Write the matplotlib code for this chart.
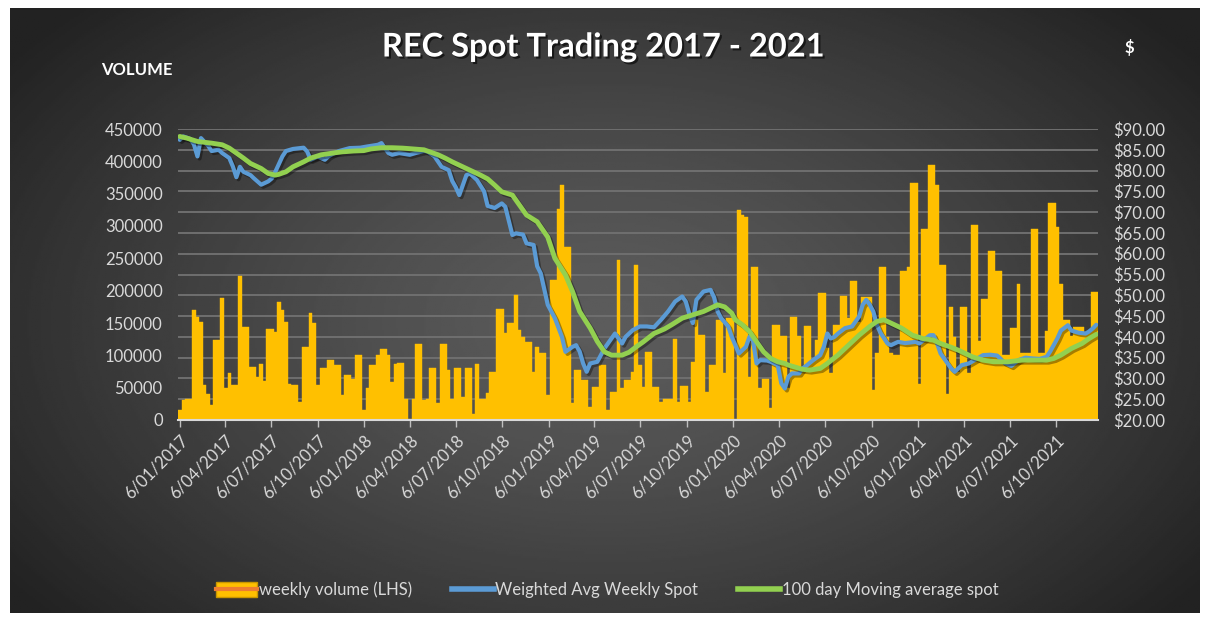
import numpy as np
import matplotlib
matplotlib.use("Agg")
import matplotlib.pyplot as plt
from datetime import datetime, timedelta
from matplotlib.patches import Patch
from matplotlib.lines import Line2D
import matplotlib.patheffects as pe

# ---------------- data ----------------
start_date = datetime(2017, 1, 6)   # first weekly observation (Friday)

weekly_volume = [
    15000, 31000, 33000, 33000, 170000, 160000, 152000, 54000, 40000, 23000,
    124000, 124000, 188000, 49000, 72000, 54000, 54000, 223000, 144000, 144000,
    82000, 82000, 67000, 86000, 60000, 140000, 140000, 136000, 183000, 170000,
    152000, 55000, 54000, 54000, 28000, 113000, 113000, 166000, 150000, 54000,
    80000, 80000, 93000, 93000, 85000, 85000, 39000, 70000, 70000, 64000,
    100000, 100000, 15000, 49000, 85000, 85000, 100000, 110000, 110000, 100000,
    59000, 86000, 88000, 88000, 33000, 2000, 33000, 117000, 117000, 31000,
    33000, 81000, 81000, 26000, 117000, 117000, 77000, 33000, 80000, 80000,
    36000, 80000, 80000, 10000, 86000, 33000, 33000, 41000, 74000, 74000,
    172000, 172000, 134000, 150000, 150000, 193000, 139000, 129000, 121000, 121000,
    75000, 113000, 104000, 104000, 39000, 216000, 216000, 327000, 363000, 268000,
    268000, 26000, 77000, 77000, 62000, 62000, 20000, 51000, 51000, 85000,
    85000, 15000, 44000, 44000, 247000, 49000, 62000, 62000, 75000, 240000,
    85000, 51000, 105000, 105000, 51000, 51000, 28000, 33000, 33000, 33000,
    125000, 28000, 52000, 52000, 28000, 90000, 155000, 132000, 132000, 44000,
    85000, 85000, 155000, 155000, 72000, 157000, 157000, 1000, 324000, 317000,
    314000, 67000, 237000, 237000, 49000, 64000, 64000, 18000, 147000, 147000,
    130000, 130000, 49000, 160000, 160000, 130000, 74000, 145000, 145000, 95000,
    124000, 197000, 197000, 111000, 72000, 147000, 147000, 192000, 192000, 157000,
    215000, 215000, 152000, 190000, 190000, 190000, 46000, 103000, 237000, 237000,
    129000, 103000, 100000, 100000, 231000, 231000, 237000, 366000, 366000, 55000,
    295000, 295000, 394000, 394000, 363000, 240000, 240000, 40000, 175000, 129000,
    75000, 175000, 175000, 72000, 302000, 302000, 122000, 187000, 187000, 262000,
    262000, 231000, 231000, 100000, 100000, 143000, 143000, 210000, 103000, 103000,
    103000, 296000, 296000, 103000, 103000, 138000, 336000, 336000, 299000, 210000,
    154000, 154000, 130000, 144000, 144000, 144000, 134000, 134000, 198000, 198000,
]

# weighted average weekly spot: (week number, $)
spot_week = [0, 1, 3, 4, 5, 6, 8, 9, 11, 12, 14, 15, 16, 17, 18, 20, 21, 23, 25, 26,
             27, 29, 30, 32, 35, 36, 37, 39, 41, 42, 43, 45, 48, 51, 53, 56, 57, 59, 60, 62,
             65, 67, 69, 70, 72, 74, 76, 77, 78, 79, 80, 81, 82, 84, 86, 87, 89, 91, 92, 94,
             95, 97, 98, 100, 101, 102, 104, 106, 108, 109, 111, 112, 113, 114, 115, 116, 118, 120, 121, 123,
             125, 126, 128, 130, 132, 134, 136, 138, 140, 142, 143, 144, 145, 146, 148, 150, 151, 152, 153, 155,
             156, 158, 160, 161, 162, 163, 164, 166, 167, 169, 170, 171, 172, 173, 175, 176, 177, 179, 181, 182,
             183, 184, 185, 186, 188, 190, 192, 193, 194, 195, 196, 197, 198, 200, 201, 203, 205, 208, 209, 212,
             213, 214, 215, 216, 218, 219, 221, 223, 225, 227, 229, 231, 233, 235, 237, 239, 241, 243, 245, 246,
             248, 249, 251, 252, 254, 256, 257, 258, 259]
spot_price = [87.4, 88.2, 87.6, 86.3, 83.4, 87.8, 86.0, 84.7, 85.0, 84.2, 83.0, 81.0, 78.4, 80.9, 79.7, 78.9, 78.1, 76.6, 77.4, 78.1,
              79.7, 83.4, 84.7, 85.2, 85.5, 84.6, 82.6, 83.4, 82.6, 83.4, 83.9, 84.7, 85.4, 85.5, 85.8, 86.2, 86.6, 84.2, 83.8, 84.2,
              83.8, 84.3, 84.7, 84.6, 83.4, 80.9, 80.1, 77.5, 76.0, 74.1, 76.5, 78.9, 79.3, 77.7, 75.0, 71.5, 71.0, 72.1, 71.3, 64.5,
              64.9, 64.6, 62.5, 62.1, 57.0, 55.3, 47.7, 44.5, 40.0, 36.4, 37.6, 38.0, 36.5, 33.6, 31.6, 33.6, 34.0, 37.2, 38.4, 40.8,
              38.4, 40.0, 41.6, 42.5, 42.5, 42.3, 44.1, 46.1, 48.5, 49.7, 48.5, 45.5, 43.3, 48.9, 50.9, 51.3, 49.5, 46.1, 44.5, 42.5,
              40.0, 36.0, 37.6, 40.0, 39.2, 33.6, 34.4, 34.3, 34.0, 33.2, 28.8, 27.6, 30.4, 31.2, 31.2, 32.4, 33.0, 34.4, 35.6, 37.6,
              40.8, 39.6, 40.0, 40.8, 42.1, 42.5, 44.9, 47.7, 48.9, 47.7, 46.1, 42.9, 41.0, 38.4, 38.0, 38.8, 38.5, 38.8, 38.4, 40.4,
              40.4, 38.5, 36.0, 34.8, 32.4, 31.6, 33.2, 33.6, 34.6, 35.6, 35.7, 35.5, 33.8, 33.0, 34.4, 35.0, 34.8, 34.7, 35.2, 36.5,
              39.6, 41.5, 42.8, 41.5, 41.0, 40.8, 41.3, 42.0, 42.9]

# 100 day moving average spot: (week number, $)
ma_week = [0, 2, 5, 9, 12, 14, 16, 18, 20, 23, 25, 27, 28, 30, 32, 35, 37, 40, 44, 46,
           49, 52, 54, 57, 60, 63, 66, 69, 71, 73, 75, 77, 79, 81, 83, 85, 87, 89, 91, 94,
           96, 98, 101, 104, 106, 109, 111, 113, 116, 118, 120, 122, 125, 127, 129, 131, 134, 137, 139, 142,
           145, 148, 151, 152, 154, 156, 157, 159, 161, 163, 165, 167, 169, 171, 172, 176, 178, 181, 183, 186,
           189, 192, 195, 197, 199, 201, 204, 207, 210, 213, 215, 218, 220, 222, 224, 227, 230, 234, 238, 241,
           245, 247, 249, 252, 255, 257, 259]
ma_price = [88.2, 87.8, 87.0, 86.6, 86.2, 85.4, 84.2, 83.0, 81.7, 80.5, 79.3, 78.9, 79.1, 79.7, 80.9, 82.1, 83.0, 83.8, 84.3, 84.5,
            84.7, 84.8, 85.2, 85.5, 85.5, 85.4, 85.2, 85.0, 84.4, 83.8, 83.0, 82.1, 81.3, 80.5, 79.7, 78.9, 78.0, 76.5, 74.9, 74.1,
            71.7, 69.3, 67.7, 64.0, 58.9, 54.9, 50.9, 46.1, 42.1, 38.9, 36.4, 35.6, 35.6, 36.3, 37.6, 38.8, 40.8, 41.9, 42.9, 44.5,
            45.3, 46.1, 47.3, 47.7, 47.2, 45.7, 44.1, 42.9, 41.3, 38.8, 36.4, 34.8, 34.0, 33.6, 33.2, 32.2, 32.0, 32.4, 33.6, 35.6,
            38.0, 40.4, 42.5, 43.7, 44.1, 43.3, 42.1, 40.4, 39.6, 39.2, 38.4, 37.5, 36.8, 36.0, 35.2, 34.4, 34.0, 34.0, 34.4, 34.4,
            34.4, 34.8, 35.6, 37.2, 38.4, 39.6, 40.6]

tick_dates = [datetime(y, m, 6) for y in range(2017, 2022) for m in (1, 4, 7, 10)]
tick_labels = ["6/01/2017", "6/04/2017", "6/07/2017", "6/10/2017",
               "6/01/2018", "6/04/2018", "6/07/2018", "6/10/2018",
               "6/01/2019", "6/04/2019", "6/07/2019", "6/10/2019",
               "6/01/2020", "6/04/2020", "6/07/2020", "6/10/2020",
               "6/01/2021", "6/04/2021", "6/07/2021", "6/10/2021"]
volume_ticks = list(range(0, 450001, 50000))
price_ticks = list(range(20, 91, 5))

title_text = "REC Spot Trading 2017 - 2021"
legend_labels = ["weekly volume (LHS)", "Weighted Avg Weekly Spot", "100 day Moving average spot"]

# ---------------- style ----------------
FONT = ["Lato", "DejaVu Sans"]
plt.rcParams["font.family"] = FONT
TXT = "#d9d9d9"
BAR_C = "#FFC000"
BLUE = "#5B9BD5"
GREEN = "#92D050"
GRID = "#6f6f6f"

FW, FH = 1206, 621
fig = plt.figure(figsize=(FW / 100, FH / 100), dpi=100)
fig.patch.set_facecolor("white")

# dark radial gradient background
bx0, by0, bx1, by1 = 10, 8, 1200, 613
bg = fig.add_axes([bx0 / FW, 1 - by1 / FH, (bx1 - bx0) / FW, (by1 - by0) / FH])
ny, nx = 300, 600
yy, xx = np.mgrid[0:1:ny * 1j, 0:1:nx * 1j]
r = np.sqrt(((xx - 0.5) / 0.62) ** 2 + ((yy - 0.52) / 0.75) ** 2)
c_in, c_out = 0x5c / 255, 0x22 / 255
val = c_in - (c_in - c_out) * np.clip(r, 0, 1) ** 1.3
bg.imshow(val, cmap="gray", vmin=0, vmax=1, aspect="auto", extent=[0, 1, 0, 1], origin="upper")
bg.axis("off")

# main axes
L, R, T, B = 178, 1098, 129, 420
ax = fig.add_axes([L / FW, 1 - B / FH, (R - L) / FW, (B - T) / FH])
ax.patch.set_alpha(0)

bar_dates = [start_date + timedelta(days=7 * i) for i in range(len(weekly_volume))]
spot_dates = [start_date + timedelta(days=7 * w) for w in spot_week]
ma_dates = [start_date + timedelta(days=7 * w) for w in ma_week]

# gridlines follow the right ($) axis ticks; drawn on volume axes so bars cover them
for p in price_ticks[1:]:
    ax.axhline((p - price_ticks[0]) / (price_ticks[-1] - price_ticks[0]) * volume_ticks[-1],
               color=GRID, lw=1.4, zorder=0)

ax.bar(bar_dates, weekly_volume, width=7, align="center", color=BAR_C,
       edgecolor=BAR_C, linewidth=0.3, zorder=2)

ax.set_ylim(volume_ticks[0], volume_ticks[-1])
ax.set_yticks(volume_ticks)
ax.set_yticklabels([str(v) for v in volume_ticks])
ax.set_xlim(start_date - timedelta(days=3.5), bar_dates[-1] + timedelta(days=3.5))
ax.set_xticks(tick_dates)
ax.set_xticklabels(tick_labels, rotation=45, ha="right", rotation_mode="anchor")
ax.tick_params(axis="x", colors=TXT, labelsize=12, length=5, width=1, direction="out", pad=4)
ax.tick_params(axis="x", color="#bfbfbf")
ax.tick_params(axis="y", colors=TXT, labelsize=12, length=0, pad=11)
for s in ["top", "right", "left"]:
    ax.spines[s].set_visible(False)
ax.spines["bottom"].set_color("#d9d9d9")
ax.spines["bottom"].set_linewidth(1.5)
ax.spines["bottom"].set_zorder(3)

ax2 = ax.twinx()
ax2.set_ylim(price_ticks[0], price_ticks[-1])
ax2.set_yticks(price_ticks)
ax2.set_yticklabels(["${:.2f}".format(p) for p in price_ticks])
ax2.tick_params(axis="y", colors=TXT, labelsize=12, length=0, pad=11)
for s in ax2.spines.values():
    s.set_visible(False)

shadow = [pe.SimpleLineShadow(offset=(1.5, -1.5), shadow_color="black", alpha=0.35), pe.Normal()]
ax2.plot(spot_dates, spot_price, color=BLUE, lw=3.0, solid_joinstyle="round",
         solid_capstyle="round", path_effects=shadow, zorder=3)
ax2.plot(ma_dates, ma_price, color=GREEN, lw=3.5, solid_joinstyle="round",
         solid_capstyle="round", path_effects=shadow, zorder=4)

# titles
fig.text(603 / FW, 1 - 47 / FH, title_text, ha="center", va="center", color="white",
         fontsize=23.5, fontweight="bold",
         path_effects=[pe.withSimplePatchShadow(offset=(1.5, -1.5), shadow_rgbFace="black", alpha=0.6)])
fig.text(137 / FW, 1 - 70 / FH, "VOLUME", ha="center", va="center", color="white",
         fontsize=12, fontweight="bold")
fig.text(1129 / FW, 1 - 48 / FH, "$", ha="center", va="center", color="white",
         fontsize=12, fontweight="bold")

# legend
h_bar = (Patch(facecolor=BAR_C, edgecolor="#C99700", linewidth=1.0),
         Line2D([], [], color="#ED7D31", lw=3))
h_blue = Line2D([], [], color=BLUE, lw=4)
h_green = Line2D([], [], color=GREEN, lw=4)
leg = fig.legend([h_bar, h_blue, h_green], legend_labels, loc="center",
                 bbox_to_anchor=(607 / FW, 1 - 590 / FH), ncol=3, frameon=False,
                 fontsize=12, handlelength=2.5, handleheight=1.0, handletextpad=0.1,
                 columnspacing=2.4, labelcolor=TXT)

fig.savefig("out.png", dpi=100, facecolor=fig.get_facecolor())
